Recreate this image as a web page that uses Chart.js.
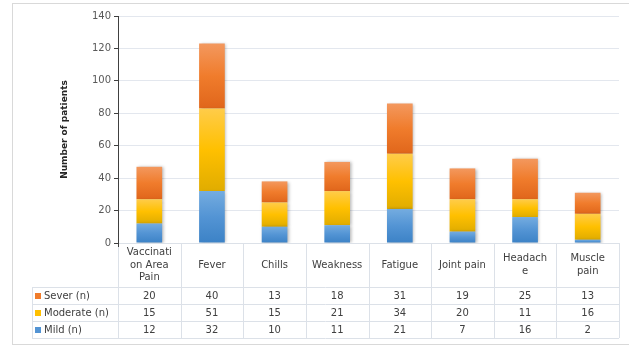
<!DOCTYPE html>
<html>
<head>
<meta charset="utf-8">
<script src="https://cdn.jsdelivr.net/npm/chart.js@4.4.1/dist/chart.umd.min.js"></script>
<style>
  html, body { margin: 0; padding: 0; background: #fff; }
  #wrap { width: 629px; height: 347px; position: relative; }
</style>
</head>
<body>
<div id="wrap"><canvas id="c" width="629" height="347"></canvas></div>
<script>
// Symptom categories (each entry = wrapped header lines of the data table)
const categories = [
  ["Vaccinati", "on Area", "Pain"],
  ["Fever"],
  ["Chills"],
  ["Weakness"],
  ["Fatigue"],
  ["Joint pain"],
  ["Headach", "e"],
  ["Muscle", "pain"]
];
// Patients per severity level
const mild     = [12, 32, 10, 11, 21,  7, 16,  2];
const moderate = [15, 51, 15, 21, 34, 20, 11, 16];
const sever    = [20, 40, 13, 18, 31, 19, 25, 13];
const seriesNames = ["Mild (n)", "Moderate (n)", "Sever (n)"];
// Value axis ticks
const yMin = 0, yMax = 140, yStep = 20;

const series = [mild, moderate, sever];
const palettes = [
  ['#74ACE0', '#5394D4', '#3C82C6'],
  ['#FFCC4A', '#FFC000', '#E0AC00'],
  ['#F3985E', '#F07C2C', '#E0661B']
];
const FONT = '"DejaVu Sans", sans-serif';

function segmentFill(ctx) {
  const pal = palettes[ctx.datasetIndex];
  const chart = ctx.chart;
  const y = chart.scales && chart.scales.y;
  if (ctx.type !== 'data' || !y || !chart.chartArea) return pal[1];
  const i = ctx.dataIndex;
  let base = 0;
  for (let k = 0; k < ctx.datasetIndex; k++) base += series[k][i];
  const top = base + series[ctx.datasetIndex][i];
  const y0 = y.getPixelForValue(top), y1 = y.getPixelForValue(base);
  if (!isFinite(y0) || !isFinite(y1) || y0 === y1) return pal[1];
  const g = chart.ctx.createLinearGradient(0, y0, 0, y1);
  g.addColorStop(0, pal[0]);
  g.addColorStop(0.5, pal[1]);
  g.addColorStop(1, pal[2]);
  return g;
}

// Outer frame around the whole figure
const framePlugin = {
  id: 'frame',
  beforeDraw(chart) {
    const c = chart.ctx;
    c.save();
    c.strokeStyle = '#D9D9D9';
    c.lineWidth = 1;
    c.strokeRect(12.5, 3.5, 640, 341);
    c.restore();
  }
};

// Soft drop shadow under the bars
const shadowPlugin = {
  id: 'barShadow',
  beforeDatasetsDraw(chart) {
    const c = chart.ctx;
    c.save();
    c.shadowColor = 'rgba(0,0,0,0.28)';
    c.shadowBlur = 3;
    c.shadowOffsetX = 1.5;
    c.shadowOffsetY = 0.5;
  },
  afterDatasetsDraw(chart) {
    chart.ctx.restore();
  }
};

// Data table under the plot, aligned with the category axis
const tablePlugin = {
  id: 'dataTable',
  afterDraw(chart) {
    const c = chart.ctx;
    const area = chart.chartArea;
    const xs = chart.scales.x;
    const n = categories.length;
    const colW = (area.right - area.left) / n;
    const top = area.bottom;
    const headH = 44, rowH = 17;
    const tableLeft = 32;
    const rowsTop = top + headH;
    const bottom = rowsTop + rowH * 3;

    c.save();
    c.strokeStyle = '#DCE1E8';
    c.lineWidth = 1;
    c.beginPath();
    // horizontal rules
    c.moveTo(area.left, top + 0.5); c.lineTo(area.right, top + 0.5);
    for (let r = 0; r <= 3; r++) {
      const yy = Math.round(rowsTop + r * rowH) + 0.5;
      c.moveTo(tableLeft, yy); c.lineTo(area.right, yy);
    }
    // vertical rules
    c.moveTo(tableLeft + 0.5, rowsTop); c.lineTo(tableLeft + 0.5, bottom);
    for (let k = 0; k <= n; k++) {
      const xx = Math.round(area.left + k * colW) + 0.5;
      c.moveTo(xx, top); c.lineTo(xx, bottom);
    }
    c.stroke();

    // axis line continues a little past zero
    c.strokeStyle = '#404040';
    c.beginPath();
    c.moveTo(Math.round(area.left) + 0.5, top);
    c.lineTo(Math.round(area.left) + 0.5, top + 4);
    c.stroke();

    // header cells
    c.fillStyle = '#404040';
    c.font = '10px ' + FONT;
    c.textAlign = 'center';
    c.textBaseline = 'middle';
    const lineH = 12.5;
    categories.forEach((lines, i) => {
      const cx = xs.getPixelForValue(i);
      const cy = top + headH / 2;
      lines.forEach((t, j) => {
        c.fillText(t, cx, cy + (j - (lines.length - 1) / 2) * lineH);
      });
    });

    // value rows: Sever, Moderate, Mild
    for (let r = 0; r < 3; r++) {
      const s = 2 - r;
      const cy = rowsTop + r * rowH + rowH / 2 + 0.5;
      c.fillStyle = palettes[s][1];
      c.fillRect(35, Math.round(cy - 3), 6, 6);
      c.fillStyle = '#404040';
      c.textAlign = 'left';
      c.fillText(seriesNames[s], 44, cy);
      c.textAlign = 'center';
      series[s].forEach((v, i) => {
        c.fillText(String(v), xs.getPixelForValue(i), cy);
      });
    }
    c.restore();
  }
};

new Chart(document.getElementById('c'), {
  type: 'bar',
  data: {
    labels: categories,
    datasets: series.map((d, k) => ({
      label: seriesNames[k],
      data: d,
      backgroundColor: segmentFill,
      borderWidth: 0,
      barPercentage: 0.82,
      categoryPercentage: 0.5
    }))
  },
  options: {
    responsive: false,
    animation: false,
    devicePixelRatio: 1,
    layout: { padding: { left: 0, right: 10, top: 16, bottom: 104 } },
    plugins: { legend: { display: false }, tooltip: { enabled: false } },
    scales: {
      x: { stacked: true, display: false },
      y: {
        stacked: true,
        min: yMin, max: yMax,
        ticks: { stepSize: yStep, color: '#595959', font: { family: FONT, size: 10 }, padding: 3 },
        grid: { color: '#E3E7EE', tickColor: '#404040', tickLength: 4, drawTicks: true },
        border: { display: true, color: '#404040', width: 1 },
        title: {
          display: true,
          text: 'Number of patients',
          color: '#262626',
          font: { family: FONT, size: 9, weight: 'bold' },
          padding: { top: 59, bottom: 0 }
        },
        afterFit(scale) { scale.width = 118; }
      }
    }
  },
  plugins: [framePlugin, shadowPlugin, tablePlugin]
});
</script>
</body>
</html>
